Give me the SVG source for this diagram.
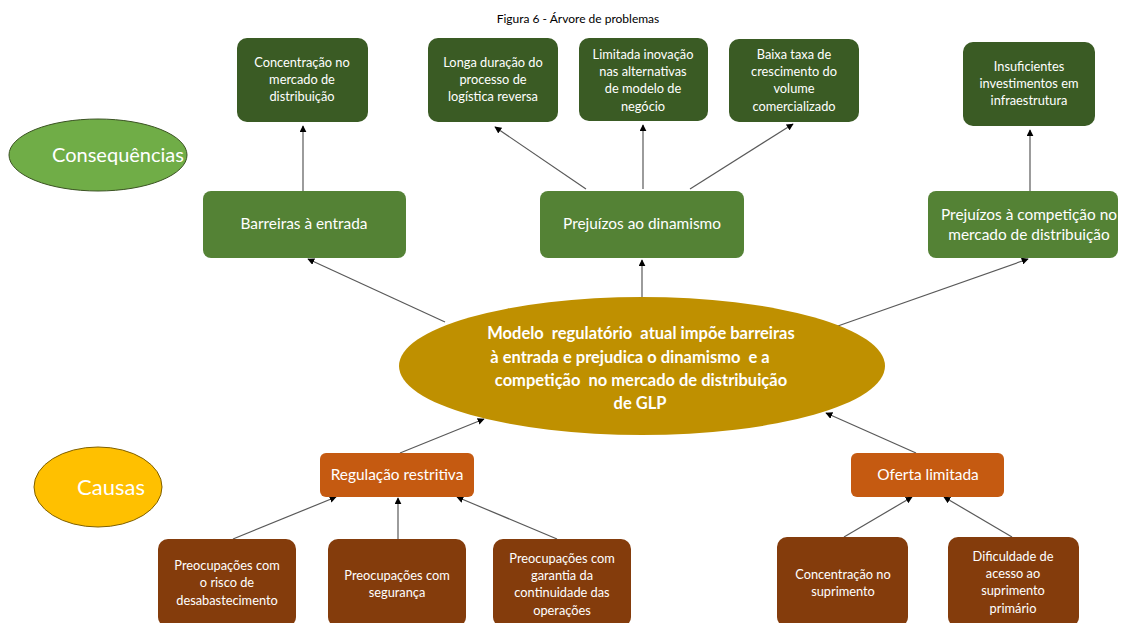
<svg xmlns="http://www.w3.org/2000/svg" width="1121" height="623" viewBox="0 0 1121 623">
<defs>
<style>
.t{font-family:Lato,"Open Sans","Liberation Sans",sans-serif;fill:#ffffff;text-anchor:middle}
.s{font-size:12.8px}
.m{font-size:15.4px}
.dk{fill:#3A5B24}
.md{fill:#548235}
.or{fill:#C55A11}
.br{fill:#843C0C}
.c{stroke:#595959;stroke-width:1.2;fill:none;marker-end:url(#ah)}
</style>
<marker id="ah" viewBox="0 0 10 10" refX="9" refY="5" markerWidth="7" markerHeight="7" orient="auto" markerUnits="userSpaceOnUse">
<path d="M0,0 L10,5 L0,10 z" fill="#000"/>
</marker>
</defs>
<rect width="1121" height="623" fill="#ffffff"/>
<text x="578" y="23" style="font-family:Lato,'Liberation Sans',sans-serif;font-size:12px;fill:#000;text-anchor:middle">Figura 6 - Árvore de problemas</text>

<g id="connectors">
<line class="c" x1="303" y1="191" x2="303" y2="126"/>
<line class="c" x1="586" y1="189" x2="495" y2="127"/>
<line class="c" x1="643" y1="189" x2="643" y2="125"/>
<line class="c" x1="690" y1="189" x2="793" y2="124"/>
<line class="c" x1="1030" y1="191" x2="1030" y2="130"/>
<line class="c" x1="445" y1="322" x2="308" y2="259"/>
<line class="c" x1="642" y1="297" x2="642" y2="260"/>
<line class="c" x1="835" y1="327" x2="1028" y2="259"/>
<line class="c" x1="400" y1="453" x2="484" y2="419"/>
<line class="c" x1="916" y1="453" x2="826" y2="413"/>
<line class="c" x1="233" y1="539" x2="336" y2="497"/>
<line class="c" x1="398" y1="539" x2="398" y2="498"/>
<line class="c" x1="557" y1="539" x2="457" y2="497"/>
<line class="c" x1="844" y1="537" x2="912" y2="497"/>
<line class="c" x1="1012" y1="537" x2="944" y2="497"/>
</g>

<g id="consequencias">
<ellipse cx="98" cy="155" rx="89" ry="36" fill="#70AD47" stroke="#3B5323" stroke-width="1"/>
<text class="t" x="118" y="162" style="font-size:20px">Consequências</text>
</g>

<g id="causas">
<ellipse cx="98" cy="487" rx="64" ry="40" fill="#FFC000" stroke="#7F6000" stroke-width="1"/>
<text class="t" x="111" y="495" style="font-size:22px">Causas</text>
</g>

<g id="n1">
<rect class="dk" x="237" y="38" width="131" height="84" rx="10"/>
<text class="t s" x="302" y="67">Concentração no</text>
<text class="t s" x="302" y="84">mercado de</text>
<text class="t s" x="302" y="101">distribuição</text>
</g>
<g id="n2">
<rect class="dk" x="428" y="38" width="130" height="84" rx="10"/>
<text class="t s" x="493" y="67">Longa duração do</text>
<text class="t s" x="493" y="84">processo de</text>
<text class="t s" x="493" y="101">logística reversa</text>
</g>
<g id="n3">
<rect class="dk" x="579" y="38" width="129" height="83" rx="10"/>
<text class="t s" x="643" y="59">Limitada inovação</text>
<text class="t s" x="643" y="76">nas alternativas</text>
<text class="t s" x="643" y="93">de modelo de</text>
<text class="t s" x="643" y="111">negócio</text>
</g>
<g id="n4">
<rect class="dk" x="729" y="39" width="130" height="83" rx="10"/>
<text class="t s" x="794" y="59">Baixa taxa de</text>
<text class="t s" x="794" y="76">crescimento do</text>
<text class="t s" x="794" y="93">volume</text>
<text class="t s" x="794" y="111">comercializado</text>
</g>
<g id="n5">
<rect class="dk" x="963" y="42" width="132" height="84" rx="10"/>
<text class="t s" x="1029" y="71">Insuficientes</text>
<text class="t s" x="1029" y="88">investimentos em</text>
<text class="t s" x="1029" y="105">infraestrutura</text>
</g>

<g id="barreiras">
<rect class="md" x="203" y="191" width="203" height="67" rx="8"/>
<text class="t m" x="304" y="229">Barreiras à entrada</text>
</g>
<g id="dinamismo">
<rect class="md" x="540" y="191" width="204" height="67" rx="8"/>
<text class="t m" x="642" y="229">Prejuízos ao dinamismo</text>
</g>
<g id="competicao">
<rect class="md" x="928" y="191" width="190" height="67" rx="8"/>
<text class="t m" x="1029" y="220">Prejuízos à competição no</text>
<text class="t m" x="1029" y="240">mercado de distribuição</text>
</g>

<g id="central">
<ellipse cx="642" cy="366" rx="243" ry="69" fill="#BF9000"/>
<text class="t" xml:space="preserve" x="641" y="339" style="font-size:16.5px;font-weight:bold">Modelo  regulatório  atual impõe barreiras</text>
<text class="t" xml:space="preserve" x="630" y="363" style="font-size:16.5px;font-weight:bold">à entrada e prejudica o dinamismo  e a</text>
<text class="t" xml:space="preserve" x="641" y="386" style="font-size:16.5px;font-weight:bold">competição  no mercado de distribuição</text>
<text class="t" x="640" y="409" style="font-size:16.5px;font-weight:bold">de GLP</text>
</g>

<g id="regulacao">
<rect class="or" x="320" y="453" width="154" height="44" rx="6"/>
<text class="t m" x="397" y="480">Regulação restritiva</text>
</g>
<g id="oferta">
<rect class="or" x="851" y="453" width="153" height="44" rx="6"/>
<text class="t m" x="928" y="480">Oferta limitada</text>
</g>

<g id="b1">
<rect class="br" x="158" y="539" width="138" height="88" rx="10"/>
<text class="t s" x="227" y="570">Preocupações com</text>
<text class="t s" x="227" y="587">o risco de</text>
<text class="t s" x="227" y="605">desabastecimento</text>
</g>
<g id="b2">
<rect class="br" x="328" y="539" width="138" height="88" rx="10"/>
<text class="t s" x="397" y="580">Preocupações com</text>
<text class="t s" x="397" y="597">segurança</text>
</g>
<g id="b3">
<rect class="br" x="493" y="539" width="138" height="88" rx="10"/>
<text class="t s" x="562" y="563">Preocupações com</text>
<text class="t s" x="562" y="580">garantia da</text>
<text class="t s" x="562" y="597">continuidade das</text>
<text class="t s" x="562" y="615">operações</text>
</g>
<g id="b4">
<rect class="br" x="777" y="537" width="131" height="90" rx="10"/>
<text class="t s" x="843" y="579">Concentração no</text>
<text class="t s" x="843" y="596">suprimento</text>
</g>
<g id="b5">
<rect class="br" x="948" y="537" width="131" height="90" rx="10"/>
<text class="t s" x="1013" y="561">Dificuldade de</text>
<text class="t s" x="1013" y="578">acesso ao</text>
<text class="t s" x="1013" y="595">suprimento</text>
<text class="t s" x="1013" y="613">primário</text>
</g>
</svg>
